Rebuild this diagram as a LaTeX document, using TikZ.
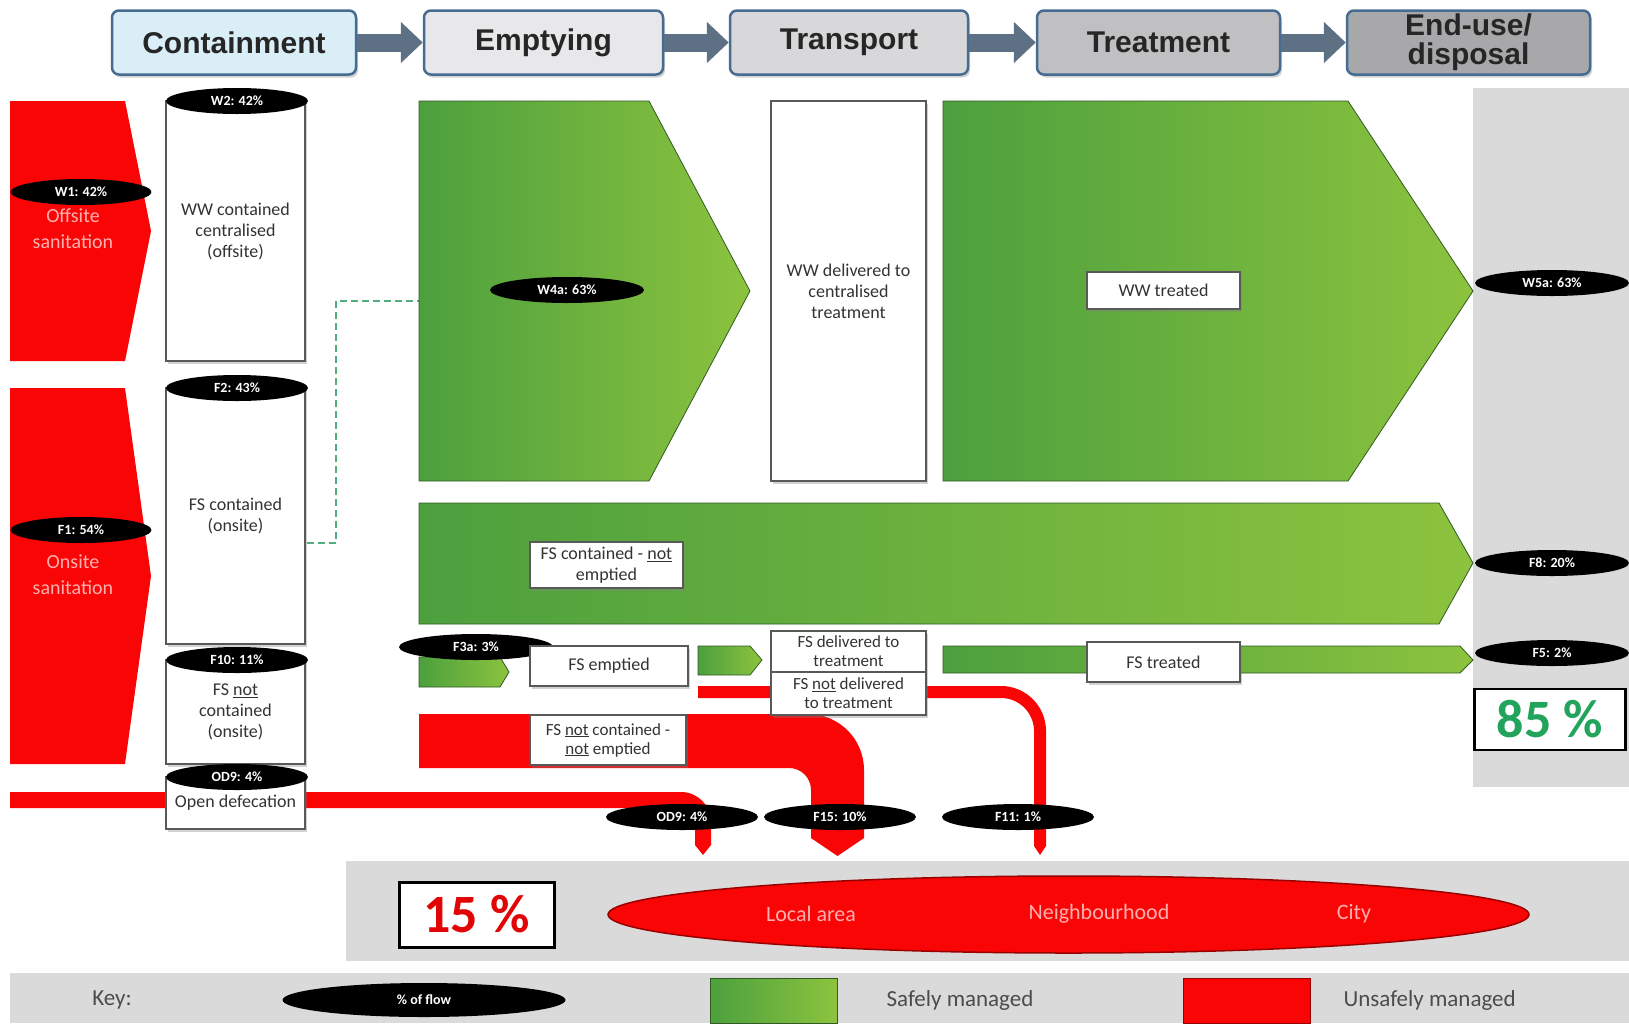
\documentclass[tikz,border=0pt]{standalone}
\usepackage{fontspec}
\setmainfont{Carlito}
\newfontfamily\hdrfont{Liberation Sans}
\usetikzlibrary{shapes.geometric,arrows.meta,shadows}
\definecolor{sfdred}{RGB}{250,5,5}
\definecolor{gdark}{RGB}{76,160,62}
\definecolor{glight}{RGB}{140,195,62}
\definecolor{goutline}{RGB}{50,90,35}
\definecolor{hdrborder}{RGB}{70,108,145}
\definecolor{arrowc}{RGB}{93,112,132}
\definecolor{panelc}{RGB}{218,218,218}
\definecolor{pinktext}{RGB}{255,175,175}
\definecolor{pctgreen}{RGB}{34,164,93}
\definecolor{dashgreen}{RGB}{80,175,125}
\definecolor{hcA}{RGB}{218,238,247}
\definecolor{hcB}{RGB}{232,232,234}
\definecolor{hcC}{RGB}{216,216,218}
\definecolor{hcD}{RGB}{192,192,194}
\definecolor{hcE}{RGB}{168,168,170}
\newcommand\lblfont{\fontsize{18}{21}\selectfont}
\newcommand\smlfont{\fontsize{17}{19}\selectfont}
\begin{document}
\begin{tikzpicture}[x=1pt,y=-1pt,
  shd/.style={drop shadow={opacity=0.35,shadow xshift=2pt,shadow yshift=-3pt}},
  hdr/.style={draw=hdrborder,line width=2.5pt,rounded corners=7pt,minimum height=64pt,inner sep=0pt,align=center,font=\hdrfont\bfseries\fontsize{30}{29}\selectfont,text=black!85,shd},
  hdrarr/.style={draw=arrowc,line width=18pt,-{Triangle[length=22pt,width=40pt]}},
  wbox/.style={draw=black!65,line width=1.2pt,fill=white,align=center,inner sep=0pt,font=\lblfont,text=black!80,shd},
  sbox/.style={wbox,font=\smlfont},
  pct/.style={ellipse,fill=black,text=white,inner sep=0pt,minimum width=154pt,minimum height=26pt,font=\bfseries\fontsize{14}{14}\selectfont},
  gflow/.style={draw=goutline,line width=0.8pt,left color=gdark,right color=glight},
  pinklbl/.style={text=pinktext,font=\fontsize{20}{26}\selectfont,align=center},
  arealbl/.style={text=pinktext,font=\fontsize{22}{22}\selectfont},
  keytxt/.style={text=black!70,font=\fontsize{23}{23}\selectfont},
  keysq/.style={minimum width=127pt,minimum height=45pt,inner sep=0pt},
  bigpct/.style={draw=black,line width=3pt,fill=white,inner sep=0pt,font=\bfseries\fontsize{54}{54}\selectfont},
  dashline/.style={draw=dashgreen,line width=1.3pt,dash pattern=on 7pt off 4pt}
]
\useasboundingbox (0,0) rectangle (1629,1023);
\fill[white] (0,0) rectangle (1629,1023);
% panels
\fill[panelc] (1473,88) rectangle (1629,787);
\fill[panelc] (346,861) rectangle (1629,961);
\fill[panelc] (10,973) rectangle (1629,1023);
% headers
\node[hdr,fill=hcA,minimum width=244pt] (cont) at (234,42.5) {Containment};
\node[hdr,fill=hcB,minimum width=239pt] (empt) at (543.5,42.5) {Emptying};
\node[hdr,fill=hcC,minimum width=238pt] (trans) at (849,42.5) {Transport};
\node[hdr,fill=hcD,minimum width=243pt] (treat) at (1158.5,42.5) {Treatment};
\node[hdr,fill=hcE,minimum width=243pt] (enduse) at (1468.5,42.5) {End-use/\\disposal};
\draw[hdrarr] (cont) -- (empt);
\draw[hdrarr] (empt) -- (trans);
\draw[hdrarr] (trans) -- (treat);
\draw[hdrarr] (treat) -- (enduse);
% red containment arrows
\fill[sfdred] (10,101) -- (125,101) -- (151,231) -- (125,361) -- (10,361) -- cycle;
\fill[sfdred] (10,388) -- (125,388) -- (151,576) -- (125,764) -- (10,764) -- cycle;
\node[pinklbl] (offs) at (73,229) {Offsite\\sanitation};
\node[pinklbl] (ons) at (73,575) {Onsite\\sanitation};
% red pipes
\fill[sfdred] (10,792) -- (681,792) .. controls (697.6,792) and (711,805.4) .. (711,822) -- (711,845) -- (703,855) -- (695,845) -- (695,822) .. controls (695,814.3) and (688.7,808) .. (681,808) -- (10,808) -- cycle;
\fill[sfdred] (419,714) -- (808,714) .. controls (839,714) and (864,739) .. (864,770) -- (864,838) -- (837.5,856) -- (811,838) -- (811,790) .. controls (811,777.8) and (801.2,768) .. (789,768) -- (419,768) -- cycle;
\fill[sfdred] (698,686) -- (1001,686) .. controls (1025.9,686) and (1046,706.1) .. (1046,731) -- (1046,846) -- (1040,855) -- (1034,846) -- (1034,731) .. controls (1034,712.8) and (1019.2,698) .. (1001,698) -- (698,698) -- cycle;
% containment boxes
\node[wbox,minimum width=139pt,minimum height=260pt] (wwcont) at (235.5,231) {WW contained\\centralised\\(offsite)};
\node[wbox,minimum width=139pt,minimum height=256pt] (fscont) at (235.5,516) {FS contained\\(onsite)};
\node[wbox,minimum width=139pt,minimum height=104pt] (fsnot) at (235.5,712) {FS \underline{not}\\contained\\(onsite)};
\node[wbox,minimum width=139pt,minimum height=52pt] (odbox) at (235.5,803) {Open defecation};
\node[pct,minimum width=141pt] (w1) at (81,192) {W1: 42\%};
\node[pct,minimum width=142pt] (w2) at (237,101) {W2: 42\%};
\node[pct,minimum width=141pt] (f1) at (81,530) {F1: 54\%};
\node[pct,minimum width=142pt] (f2) at (237,388) {F2: 43\%};
\node[pct,minimum width=142pt] (f10) at (237,660) {F10: 11\%};
\node[pct,minimum width=142pt] (od9a) at (237,777) {OD9: 4\%};
% dashed link
\coordinate (d1) at (307,543);
\coordinate (d2) at (336,301);
\coordinate (w4in) at (419,301);
\draw[dashline] (d1) -| (d2) -- (w4in);
% sewer flow
\path[gflow] (419,101) -- (649,101) -- (750,291) -- (649,481) -- (419,481) -- cycle;
\node[pct] (w4a) at (567,290) {W4a: 63\%};
\node[wbox,minimum width=155pt,minimum height=380pt] (wwdel) at (848.5,291) {WW delivered to\\centralised\\treatment};
\path[gflow] (943,101) -- (1348,101) -- (1473,291) -- (1348,481) -- (943,481) -- cycle;
\node[wbox,minimum width=153pt,minimum height=37pt] (wwtr) at (1163.5,290.5) {WW treated};
\node[pct] (w5a) at (1552,283) {W5a: 63\%};
% FS contained not emptied
\path[gflow] (419,503) -- (1439,503) -- (1473,563) -- (1439,624) -- (419,624) -- cycle;
\node[wbox,minimum width=153pt,minimum height=46pt] (fscne) at (606.5,565) {FS contained - \underline{not}\\emptied};
\node[pct] (f8) at (1552,563) {F8: 20\%};
% FS emptied chain
\path[gflow] (419,657) -- (500,657) -- (509,672) -- (500,687) -- (419,687) -- cycle;
\node[pct] (f3a) at (476,647) {F3a: 3\%};
\node[wbox,minimum width=158pt,minimum height=40pt] (fsemp) at (609,666) {FS emptied};
\path[gflow] (698,646) -- (750,646) -- (762,660) -- (750,675) -- (698,675) -- cycle;
\node[sbox,minimum width=155pt,minimum height=41pt] (fsdel) at (848.5,651.5) {FS delivered to\\treatment};
\node[sbox,minimum width=155pt,minimum height=43pt] (fsnotdel) at (848.5,693.5) {FS \underline{not} delivered\\to treatment};
\path[gflow] (943,646) -- (1460,646) -- (1473,660) -- (1460,673) -- (943,673) -- cycle;
\node[wbox,minimum width=153pt,minimum height=40pt] (fstr) at (1163.5,662) {FS treated};
\node[pct] (f5) at (1552,653) {F5: 2\%};
\node[sbox,minimum width=156pt,minimum height=50pt] (fsncne) at (608,740) {FS \underline{not} contained -\\\underline{not} emptied};
% bottom flow labels
\node[pct,minimum width=152pt] (od9b) at (682,817) {OD9: 4\%};
\node[pct,minimum width=152pt] (f15) at (840,817) {F15: 10\%};
\node[pct,minimum width=152pt] (f11) at (1018,817) {F11: 1\%};
% percentages
\node[bigpct,line width=2.5pt,minimum width=151pt,minimum height=61pt,text=pctgreen] (p85) at (1550,719.5) {85 \%};
\node[bigpct,minimum width=155pt,minimum height=65pt,text=sfdred!90!black] (p15) at (476.5,914.5) {15 \%};
% area
\node[ellipse,fill=sfdred,draw=red!60!black,line width=1.5pt,minimum width=921pt,minimum height=77pt,inner sep=0pt] (area) at (1068.5,914.5) {};
\node[arealbl] (la) at (811,914) {Local area};
\node[arealbl] (nb) at (1099,914) {Neighbourhood};
\node[arealbl] (city) at (1354,914) {City};
% key
\node[keytxt] (key) at (112,1000) {Key:};
\node[pct,minimum width=283pt,minimum height=34pt] (keyell) at (424,1000) {\% of flow};
\node[keysq,draw=goutline,left color=gdark,right color=glight] (keyg) at (773.5,1000.5) {};
\node[keytxt,anchor=west] (keyglbl) at (883,1000) {Safely managed};
\node[keysq,fill=sfdred,draw=red!60!black] (keyr) at (1246.5,1000.5) {};
\node[keytxt,anchor=west] (keyrlbl) at (1340,1000) {Unsafely managed};
\end{tikzpicture}
\end{document}
